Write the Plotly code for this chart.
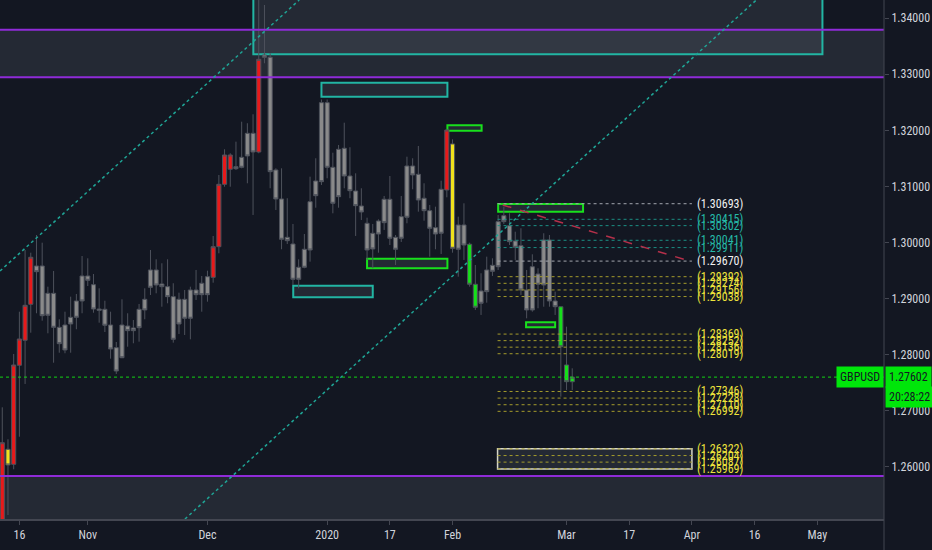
import plotly.graph_objects as go

# ---------------- data: daily bars, index -3 .. 97 ----------------
bar_idx = list(range(-3, 98))
opens = [
    1.24370, 1.26316, 1.26048, 1.27813, 1.28259, 1.28900, 1.29583, 1.29583, 1.29096, 1.29096,
    1.28490, 1.28531, 1.28668, 1.28959, 1.29405, 1.29405, 1.29250, 1.28816, 1.28811, 1.28531,
    1.28127, 1.28531, 1.28513, 1.28478, 1.28811, 1.28989, 1.29512, 1.29512, 1.29262, 1.29214,
    1.29036, 1.28989, 1.28989, 1.29155, 1.29155, 1.29275, 1.29392, 1.29381, 1.29927, 1.31039,
    1.31307, 1.31353, 1.31520, 1.31948, 1.31948, 1.31615, 1.33344, 1.33303, 1.31294, 1.30777,
    1.30094, 1.29975, 1.29560, 1.29881, 1.30729, 1.31098, 1.32494, 1.32494, 1.31342, 1.31663,
    1.31681, 1.31187, 1.30920, 1.30652, 1.30344, 1.30166, 1.30385, 1.30772, 1.30772, 1.30094,
    1.30462, 1.31365, 1.31365, 1.31217, 1.30790, 1.30569, 1.30266, 1.30950, 1.30938, 1.31758,
    1.30314, 1.30314, 1.29970, 1.29257, 1.29137, 1.29512, 1.29595, 1.30373, 1.30480, 1.30301,
    1.30029, 1.29945, 1.29155, 1.29570, 1.29440, 1.30046, 1.30046, 1.28959, 1.28856, 1.27818,
    1.27520]
closes = [
    1.26433, 1.26036, 1.27818, 1.28282, 1.28882, 1.29738, 1.29481, 1.28697, 1.28704, 1.28490,
    1.28198, 1.28086, 1.28549, 1.28668, 1.28959, 1.29328, 1.28816, 1.28793, 1.28526, 1.28103,
    1.27711, 1.27948, 1.28430, 1.28430, 1.28483, 1.28799, 1.29203, 1.29244, 1.29214, 1.29036,
    1.28276, 1.28549, 1.28651, 1.28651, 1.29071, 1.29071, 1.29071, 1.29927, 1.31039, 1.31561,
    1.31561, 1.31317, 1.31342, 1.31544, 1.31615, 1.33267, 1.33303, 1.31264, 1.30777, 1.30059,
    1.30034, 1.29346, 1.29346, 1.29560, 1.29868, 1.30836, 1.31086, 1.31342, 1.30700, 1.30818,
    1.31187, 1.30925, 1.30658, 1.30545, 1.29868, 1.29886, 1.30153, 1.30355, 1.30077, 1.29881,
    1.30077, 1.30451, 1.31205, 1.30759, 1.30569, 1.30255, 1.30153, 1.30166, 1.32007, 1.29898,
    1.29881, 1.29957, 1.29257, 1.28847, 1.28918, 1.29125, 1.29488, 1.29570, 1.30373, 1.30016,
    1.29916, 1.29155, 1.28799, 1.28799, 1.29257, 1.29244, 1.28959, 1.28857, 1.28144, 1.27521,
    1.27602]
highs = [
    1.27064, 1.26494, 1.28014, 1.28768, 1.29868, 1.29820, 1.30135, 1.29998, 1.29214, 1.29494,
    1.28633, 1.28768, 1.29036, 1.29084, 1.29761, 1.29720, 1.29440, 1.29185, 1.28964, 1.28768,
    1.28228, 1.28989, 1.28740, 1.28620, 1.28906, 1.29185, 1.29868, 1.29702, 1.29631, 1.29702,
    1.29275, 1.29107, 1.29155, 1.29214, 1.29512, 1.29405, 1.29499, 1.30118, 1.31205, 1.31663,
    1.31592, 1.31799, 1.32155, 1.32127, 1.32287, 1.35140, 1.34235, 1.33374, 1.31324, 1.31324,
    1.30790, 1.30332, 1.29702, 1.30153, 1.31175, 1.31503, 1.32550, 1.32550, 1.31602, 1.31740,
    1.32137, 1.31699, 1.31235, 1.30968, 1.30444, 1.30332, 1.30415, 1.30831, 1.31187, 1.30135,
    1.30831, 1.31531, 1.31503, 1.31722, 1.31057, 1.30670, 1.30640, 1.31103, 1.32020, 1.31841,
    1.30462, 1.30700, 1.29998, 1.29601, 1.29453, 1.29749, 1.29720, 1.30492, 1.30640, 1.30522,
    1.30194, 1.30255, 1.29512, 1.29791, 1.29542, 1.30166, 1.30135, 1.29125, 1.28856, 1.28501,
    1.27759]
lows = [
    1.24100, 1.25144, 1.25959, 1.26540, 1.27480, 1.28394, 1.28740, 1.28608, 1.28383, 1.27859,
    1.28037, 1.28027, 1.28037, 1.28455, 1.28740, 1.29226, 1.28750, 1.28572, 1.28406, 1.27931,
    1.27658, 1.27940, 1.28144, 1.28205, 1.28234, 1.28633, 1.29066, 1.29096, 1.28857, 1.28918,
    1.28216, 1.28371, 1.28353, 1.28276, 1.28977, 1.28768, 1.28947, 1.29285, 1.29809, 1.30996,
    1.30996, 1.31294, 1.31324, 1.31057, 1.30492, 1.31592, 1.33196, 1.30968, 1.30581, 1.29881,
    1.29975, 1.29244, 1.29185, 1.29542, 1.29660, 1.30622, 1.31027, 1.31146, 1.30522, 1.30622,
    1.30968, 1.30790, 1.30118, 1.30403, 1.29690, 1.29542, 1.29820, 1.30225, 1.29957, 1.29601,
    1.30011, 1.30344, 1.30950, 1.30551, 1.30390, 1.29749, 1.29881, 1.29797, 1.30807, 1.29820,
    1.29392, 1.29690, 1.29214, 1.28799, 1.28710, 1.28929, 1.29405, 1.29512, 1.30332, 1.29957,
    1.29690, 1.29066, 1.28650, 1.28768, 1.28829, 1.28857, 1.28857, 1.28710, 1.27253, 1.27373,
    1.27373]
# colour class per bar: g = grey, r = red, y = yellow, n = green
bar_class = (["r", "y", "r", "r", "r", "r"] + ["g"] * 31 + ["r"] * 4 + ["g"] * 4 + ["r"]
             + ["g"] * 32 + ["r", "y", "g", "g", "n", "n"] + ["g"] * 14 + ["n", "n", "n"])
assert len(opens) == len(closes) == len(highs) == len(lows) == len(bar_class) == len(bar_idx)

tick_pos = [0, 12, 33, 54, 65, 76, 96, 107, 118, 129, 140]
tick_text = ["16", "Nov", "Dec", "2020", "17", "Feb", "Mar", "17", "Apr", "16", "May"]
price_ticks = [1.26, 1.27, 1.28, 1.29, 1.30, 1.31, 1.32, 1.33, 1.34]

# drawings
purple_zone_top = [1.33793, 1.32948]
purple_zone_bottom = [1.25840, 1.2400]
teal_boxes = [(41.05, 140.9, 1.33357, 1.3600), (53.0, 75.1, 1.32600, 1.32850),
              (48.05, 62.0, 1.29025, 1.29232)]
green_boxes = [(61.0, 75.1, 1.29542, 1.29713), (75.1, 81.1, 1.31995, 1.32091),
               (84.0, 98.9, 1.30551, 1.30688), (88.9, 94.0, 1.28490, 1.28579)]
white_box = (83.9, 118.0, 1.25964, 1.26326)
channel_upper = [(-3.40, 1.29494), (49.1, 1.34324)]
channel_lower = [(29.05, 1.25073), (129.3, 1.34324)]
red_dash = [(84.8, 1.30670), (118.0, 1.29660)]
level_x = (83.9, 118.0)
levels_white = [1.30693, 1.29670]
levels_teal = [1.30415, 1.30302, 1.30041, 1.29911]
levels_yellow = [1.29392, 1.29274, 1.29156, 1.29038, 1.28369, 1.28252, 1.28136, 1.28019,
                 1.27346, 1.27228, 1.27110, 1.26992, 1.26322, 1.26204, 1.26087, 1.25969]
last_price = 1.27602

# ---------------- figure ----------------
BG = "#131722"
fills = {"g": "#8a8a8a", "r": "#e8191a", "y": "#f0e11c", "n": "#16e01a"}
wick = "#4e525c"

fig = go.Figure()
for cls, fc in fills.items():
    sel = [i for i, c in enumerate(bar_class) if c == cls]
    fig.add_trace(go.Candlestick(
        x=[bar_idx[i] for i in sel],
        open=[opens[i] for i in sel], high=[highs[i] for i in sel],
        low=[lows[i] for i in sel], close=[closes[i] for i in sel],
        increasing=dict(fillcolor=fc, line=dict(color=wick, width=1)),
        decreasing=dict(fillcolor=fc, line=dict(color=wick, width=1)),
        whiskerwidth=0, showlegend=False, hoverinfo="skip",
    ))

shapes = []
zone_fill = "rgba(125,128,140,0.17)"
purple = "#8f2bd8"
shapes.append(dict(type="rect", xref="paper", x0=0, x1=1, yref="y", y0=purple_zone_top[1],
                   y1=purple_zone_top[0], fillcolor=zone_fill, line=dict(width=0), layer="below"))
shapes.append(dict(type="rect", xref="paper", x0=0, x1=1, yref="y", y0=purple_zone_bottom[1],
                   y1=purple_zone_bottom[0], fillcolor=zone_fill, line=dict(width=0), layer="below"))
for yv in purple_zone_top + purple_zone_bottom[:1]:
    shapes.append(dict(type="line", xref="paper", x0=0, x1=1, yref="y", y0=yv, y1=yv,
                       line=dict(color=purple, width=2)))
for x0, x1, y0, y1 in teal_boxes:
    shapes.append(dict(type="rect", x0=x0, x1=x1, y0=y0, y1=y1, fillcolor=zone_fill,
                       line=dict(color="#22b5a3", width=2), layer="below"))
for x0, x1, y0, y1 in green_boxes:
    shapes.append(dict(type="rect", x0=x0, x1=x1, y0=y0, y1=y1, fillcolor=zone_fill,
                       line=dict(color="#18e01c", width=2), layer="below"))
shapes.append(dict(type="rect", x0=white_box[0], x1=white_box[1], y0=white_box[2], y1=white_box[3],
                   fillcolor=zone_fill, line=dict(color="#d6d6c8", width=1.5), layer="below"))
for (xa, ya), (xb, yb) in [channel_upper, channel_lower]:
    shapes.append(dict(type="line", x0=xa, y0=ya, x1=xb, y1=yb,
                       line=dict(color="#1fa596", width=1.5, dash="dot")))
for vals, col in [(levels_white, "#a3a6ae"), (levels_teal, "#1c8f84"), (levels_yellow, "#a59c2c")]:
    for v in vals:
        shapes.append(dict(type="line", x0=level_x[0], x1=level_x[1], y0=v, y1=v,
                           line=dict(color=col, width=1, dash="dot")))
shapes.append(dict(type="line", x0=red_dash[0][0], y0=red_dash[0][1], x1=red_dash[1][0],
                   y1=red_dash[1][1], line=dict(color="#b5304a", width=1.5, dash="dash")))
shapes.append(dict(type="line", xref="paper", x0=0, x1=1, y0=last_price, y1=last_price,
                   line=dict(color="#12d312", width=1, dash="dot")))
shapes.append(dict(type="line", xref="paper", yref="paper", x0=1, x1=1, y0=-0.08, y1=1,
                   line=dict(color="#434651", width=1)))

annotations = []
lab_font = "Liberation Sans Narrow, Roboto Condensed, Arial Narrow, Roboto, sans-serif"
for vals, col in [(levels_white, "#f0f0f0"), (levels_teal, "#25b9a8"), (levels_yellow, "#eee33c")]:
    for v in vals:
        annotations.append(dict(x=118.6, y=v, xanchor="left", yanchor="middle", showarrow=False,
                                text=f"({v:.5f})", font=dict(family=lab_font, size=12, color=col)))
annotations.append(dict(xref="paper", x=1, y=last_price, xanchor="right", yanchor="middle",
                        showarrow=False, text="GBPUSD", bgcolor="#00e60a", borderpad=3,
                        font=dict(family=lab_font, size=12, color="#131722")))
annotations.append(dict(xref="paper", x=1, xshift=1, y=last_price, xanchor="left", yanchor="middle",
                        showarrow=False, text=f"{last_price:.5f}", bgcolor="#00e60a", borderpad=3,
                        font=dict(family=lab_font, size=12, color="#131722")))
annotations.append(dict(xref="paper", x=1, xshift=1, y=last_price, yshift=-20, xanchor="left",
                        yanchor="middle", showarrow=False, text="20:28:22", bgcolor="#00e60a",
                        borderpad=3, font=dict(family=lab_font, size=12, color="#131722")))

fig.update_layout(
    width=932, height=550,
    margin=dict(l=0, r=48, t=0, b=31),
    paper_bgcolor=BG, plot_bgcolor=BG,
    shapes=shapes, annotations=annotations,
    boxgap=0.28, boxgroupgap=0,
    xaxis=dict(range=[-3.40, 151.7], tickvals=tick_pos, ticktext=tick_text,
               showgrid=False, zeroline=False, rangeslider=dict(visible=False),
               showline=True, linecolor="#434651", linewidth=2, ticks="outside", ticklen=4,
               tickcolor="#434651", tickfont=dict(family=lab_font, size=12, color="#d1d4dc")),
    yaxis=dict(range=[1.25073, 1.34324], side="right", tickvals=price_ticks,
               tickformat=".5f", showgrid=False, zeroline=False, ticks="outside", ticklen=4,
               tickcolor="#434651", tickfont=dict(family=lab_font, size=12, color="#d1d4dc")),
)

fig.write_html("out.html", config={"displayModeBar": False},
               post_script="document.body.style.margin='0';"
               "document.body.style.background='#131722';")
